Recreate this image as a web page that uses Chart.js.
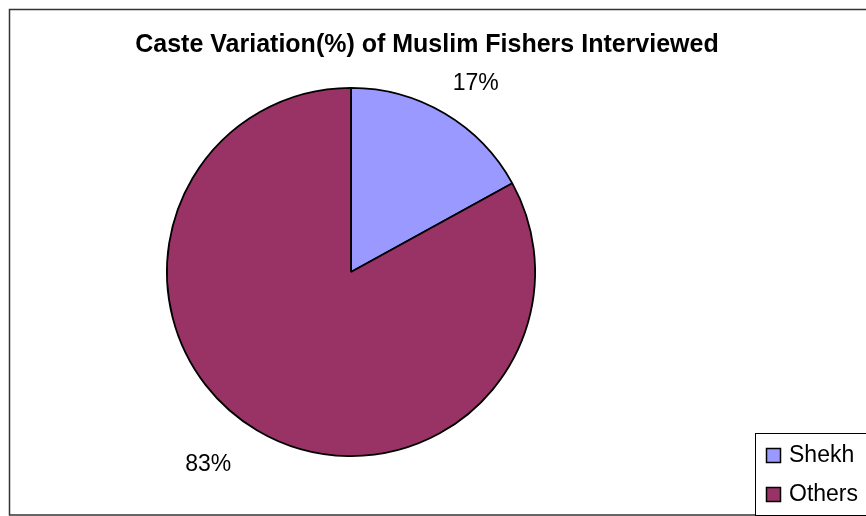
<!DOCTYPE html>
<html>
<head>
<meta charset="utf-8">
<script src="https://cdn.jsdelivr.net/npm/chart.js@4.4.0/dist/chart.umd.min.js"></script>
<style>
  html, body { margin: 0; padding: 0; background: #fff; }
  #wrap { width: 866px; height: 516px; }
</style>
</head>
<body>
<div id="wrap"><canvas id="grafico"></canvas></div>
<script>
// datos
const titulo = "Caste Variation(%) of Muslim Fishers Interviewed";
const categorias = ["Shekh", "Others"];
const valores = [17, 83];
const etiquetas = ["17%", "83%"];
const colores = ["#9999FF", "#993366"];

const fuente = "'Liberation Sans', Arial, sans-serif";

// marco, etiquetas y leyenda al estilo Excel
const extras = {
    id: "extras",
    afterDraw(chart){
        const ctx = chart.ctx;
        ctx.save();

        // marco exterior
        ctx.strokeStyle = "#333";
        ctx.lineWidth = 1.5;
        ctx.strokeRect(9.5, 9.5, 900, 505.5);

        // titulo
        ctx.fillStyle = "#000";
        ctx.font = "bold 25px " + fuente;
        ctx.textAlign = "center";
        ctx.textBaseline = "middle";
        ctx.fillText(titulo, 427, 45);

        // etiquetas de porcentaje, pegadas al borde del sector
        ctx.font = "23px " + fuente;
        const meta = chart.getDatasetMeta(0);
        meta.data.forEach(function(arc, i){
            const p = arc.getProps(["x", "y", "startAngle", "endAngle", "outerRadius"], true);
            const mid = (p.startAngle + p.endAngle) / 2;
            const cx = Math.cos(mid), sy = Math.sin(mid);
            const ex = p.x + cx * p.outerRadius;
            const ey = p.y + sy * p.outerRadius;
            const w = ctx.measureText(etiquetas[i]).width;
            // a la izquierda Excel deja mas hueco
            const gx = cx < 0 ? 26 : 8;
            const gy = sy > 0 ? 34 : 30;
            ctx.fillText(etiquetas[i], ex + Math.sign(cx) * (w / 2 + gx), ey + Math.sign(sy) * gy);
        });

        // leyenda
        ctx.font = "23px " + fuente;
        ctx.fillStyle = "#fff";
        ctx.fillRect(755, 433, 140, 82);
        ctx.strokeStyle = "#000";
        ctx.lineWidth = 1;
        ctx.strokeRect(755.5, 433.5, 140, 82);
        ctx.textAlign = "left";
        categorias.forEach(function(c, i){
            const y = 455 + i * 39;
            ctx.fillStyle = colores[i];
            ctx.fillRect(766, y - 7, 15, 15);
            ctx.strokeStyle = "#000";
            ctx.lineWidth = 1.5;
            ctx.strokeRect(766.5, y - 6.5, 14, 14);
            ctx.fillStyle = "#000";
            ctx.fillText(c, 789, y + 1);
        });
        ctx.restore();
    }
};

new Chart(document.getElementById("grafico"), {
    type: "pie",
    data: {
        labels: categorias,
        datasets: [{
            data: valores,
            backgroundColor: colores,
            borderColor: "#000",
            borderWidth: 1.8
        }]
    },
    options: {
        responsive: true,
        maintainAspectRatio: false,
        animation: false,
        layout: { padding: { top: 86, bottom: 58, left: 166, right: 330 } },
        plugins: {
            legend: { display: false },
            title: { display: false },
            tooltip: { enabled: false }
        }
    },
    plugins: [extras]
});
</script>
</body>
</html>
